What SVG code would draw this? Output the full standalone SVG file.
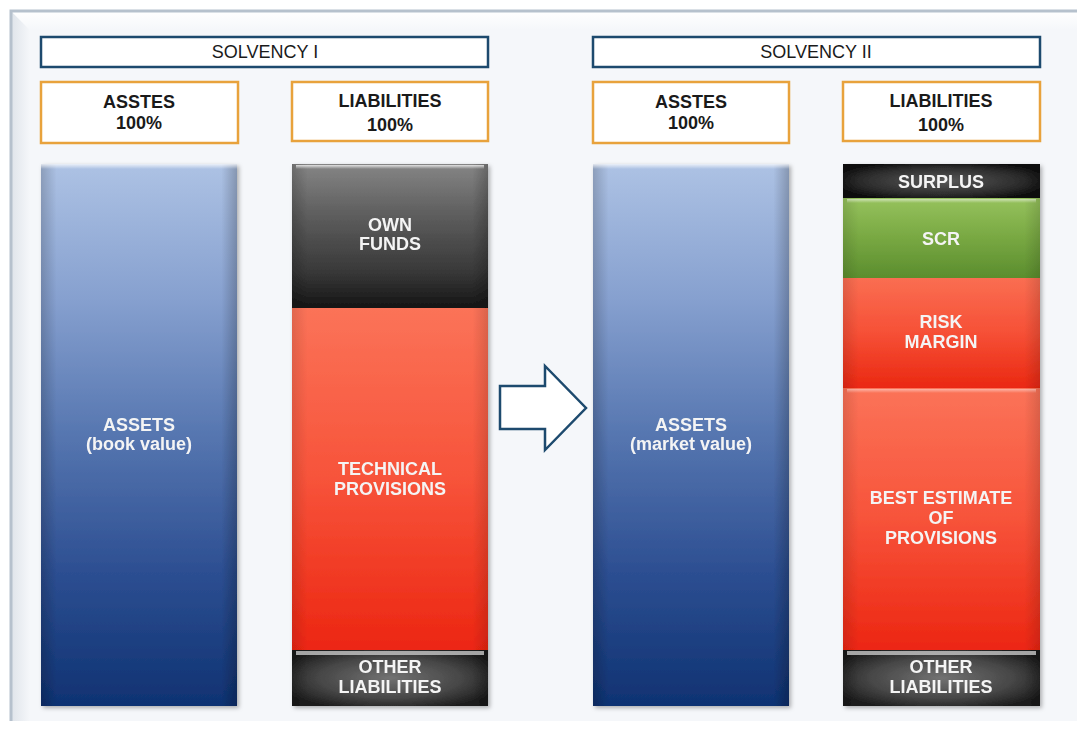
<svg xmlns="http://www.w3.org/2000/svg" width="1077" height="734" viewBox="0 0 1077 734">
<defs>
<linearGradient id="gBlue" x1="0" y1="0" x2="0" y2="1">
<stop offset="0" stop-color="#adc2e4"/>
<stop offset="0.25" stop-color="#86a0cf"/>
<stop offset="0.5" stop-color="#5676b0"/>
<stop offset="0.75" stop-color="#2d4f92"/>
<stop offset="1" stop-color="#0f3272"/>
</linearGradient>
<linearGradient id="gSide" x1="0" y1="0" x2="1" y2="0">
<stop offset="0" stop-color="#000" stop-opacity="0.18"/>
<stop offset="0.08" stop-color="#000" stop-opacity="0"/>
<stop offset="0.92" stop-color="#000" stop-opacity="0"/>
<stop offset="1" stop-color="#000" stop-opacity="0.22"/>
</linearGradient>
<linearGradient id="gDark" x1="0" y1="0" x2="0" y2="1">
<stop offset="0" stop-color="#858585"/>
<stop offset="0.35" stop-color="#5e5e5e"/>
<stop offset="0.75" stop-color="#383838"/>
<stop offset="1" stop-color="#151515"/>
</linearGradient>
<radialGradient id="gOther" cx="0.5" cy="0.5" r="0.6">
<stop offset="0" stop-color="#727272"/>
<stop offset="0.6" stop-color="#474747"/>
<stop offset="1" stop-color="#1c1c1c"/>
</radialGradient>
<radialGradient id="gSurplus" cx="0.5" cy="0.5" r="0.6">
<stop offset="0" stop-color="#5a5a5a"/>
<stop offset="0.7" stop-color="#2a2a2a"/>
<stop offset="1" stop-color="#0c0c0c"/>
</radialGradient>
<linearGradient id="gRed" x1="0" y1="0" x2="0" y2="1">
<stop offset="0" stop-color="#fb7358"/>
<stop offset="0.5" stop-color="#f7533a"/>
<stop offset="1" stop-color="#ec2612"/>
</linearGradient>
<linearGradient id="gRed2" x1="0" y1="0" x2="0" y2="1">
<stop offset="0" stop-color="#fa6e52"/>
<stop offset="0.5" stop-color="#f65036"/>
<stop offset="1" stop-color="#ea2812"/>
</linearGradient>
<linearGradient id="gGreen" x1="0" y1="0" x2="0" y2="1">
<stop offset="0" stop-color="#96c25d"/>
<stop offset="0.5" stop-color="#78a842"/>
<stop offset="1" stop-color="#5b8d2e"/>
</linearGradient>
<linearGradient id="gTopHi" x1="0" y1="0" x2="0" y2="1">
<stop offset="0" stop-color="#fff" stop-opacity="0.75"/>
<stop offset="1" stop-color="#fff" stop-opacity="0"/>
</linearGradient>
<linearGradient id="gBevelL" x1="0" y1="0" x2="1" y2="0">
<stop offset="0" stop-color="#dfe4ea"/>
<stop offset="1" stop-color="#f5f7fa"/>
</linearGradient>
<linearGradient id="gBevelT" x1="0" y1="0" x2="0" y2="1">
<stop offset="0" stop-color="#ffffff"/>
<stop offset="1" stop-color="#f5f7fa"/>
</linearGradient>
<filter id="sh" x="-10%" y="-5%" width="125%" height="115%">
<feDropShadow dx="2" dy="2" stdDeviation="2" flood-color="#000" flood-opacity="0.3"/>
</filter>
</defs>
<style>
.hdr{fill:#fff;stroke:#1d4a6e;stroke-width:2.5}
.sub{fill:#fff;stroke:#e8a23c;stroke-width:2.5}
.ht{font-family:"Liberation Sans",Arial,sans-serif;font-size:18px;fill:#1a1a1a;text-anchor:middle}
.st{font-family:"Liberation Sans",Arial,sans-serif;font-size:18px;font-weight:bold;fill:#1a1a1a;text-anchor:middle}
.bt{font-family:"Liberation Sans",Arial,sans-serif;font-size:18px;font-weight:bold;fill:#f4f4f4;text-anchor:middle}
</style>
<rect x="0" y="0" width="1077" height="734" fill="#ffffff"/>
<g id="frame">
<rect x="11" y="11" width="1066" height="710" fill="#f5f7fa"/>
<polygon points="11,11 30,30 30,721 11,721" fill="url(#gBevelL)"/>
<polygon points="11,11 1077,11 1077,30 30,30" fill="url(#gBevelT)"/>
<path d="M11,721 L11,11 L1077,11" fill="none" stroke="#b6c1cd" stroke-width="3"/>
</g>
<g id="solvency1-header"><rect class="hdr" x="41" y="37" width="447" height="30"/><text class="ht" x="265" y="58">SOLVENCY I</text></g>
<g id="solvency2-header"><rect class="hdr" x="593" y="37" width="447" height="30"/><text class="ht" x="816" y="58">SOLVENCY II</text></g>
<g id="assets1-header"><rect class="sub" x="41" y="82" width="197" height="61"/><text class="st" x="139" y="108">ASSTES</text><text class="st" x="139" y="129">100%</text></g>
<g id="liab1-header"><rect class="sub" x="292" y="82" width="196" height="59"/><text class="st" x="390" y="107">LIABILITIES</text><text class="st" x="390" y="131">100%</text></g>
<g id="assets2-header"><rect class="sub" x="593" y="82" width="196" height="61"/><text class="st" x="691" y="108">ASSTES</text><text class="st" x="691" y="129">100%</text></g>
<g id="liab2-header"><rect class="sub" x="843" y="82" width="197" height="59"/><text class="st" x="941" y="107">LIABILITIES</text><text class="st" x="941" y="131">100%</text></g>

<g id="assets1" filter="url(#sh)">
<rect x="41" y="164" width="196" height="542" fill="url(#gBlue)"/>
<rect x="41" y="164" width="196" height="542" fill="url(#gSide)"/>
<rect x="41" y="164" width="196" height="5" fill="url(#gTopHi)"/>
<text class="bt" x="139" y="431">ASSETS</text><text class="bt" x="139" y="450">(book value)</text>
</g>
<g id="liab1" filter="url(#sh)">
<g id="own-funds">
<rect x="292" y="164" width="196" height="144" fill="url(#gDark)"/>
<rect x="292" y="164" width="196" height="144" fill="url(#gSide)"/>
<rect x="296" y="165" width="188" height="4" fill="url(#gTopHi)"/>
<text class="bt" x="390" y="231">OWN</text><text class="bt" x="390" y="250">FUNDS</text>
</g>
<g id="technical-provisions">
<rect x="292" y="308" width="196" height="342" fill="url(#gRed)"/>
<rect x="292" y="308" width="196" height="342" fill="url(#gSide)" opacity="0.6"/>
<text class="bt" x="390" y="475">TECHNICAL</text><text class="bt" x="390" y="495">PROVISIONS</text>
</g>
<g id="other-liab1">
<rect x="292" y="650" width="196" height="56" fill="url(#gOther)"/>
<rect x="292" y="650" width="196" height="56" fill="url(#gSide)"/>
<rect x="296" y="651" width="188" height="4" fill="#c8c8c8" opacity="0.8"/>
<text class="bt" x="390" y="673">OTHER</text><text class="bt" x="390" y="693">LIABILITIES</text>
</g>
</g>

<g id="assets2" filter="url(#sh)">
<rect x="593" y="164" width="196" height="542" fill="url(#gBlue)"/>
<rect x="593" y="164" width="196" height="542" fill="url(#gSide)"/>
<rect x="593" y="164" width="196" height="5" fill="url(#gTopHi)"/>
<text class="bt" x="691" y="431">ASSETS</text><text class="bt" x="691" y="450">(market value)</text>
</g>
<g id="liab2" filter="url(#sh)">
<g id="surplus">
<rect x="843" y="164" width="197" height="34" fill="url(#gSurplus)"/>
<rect x="843" y="164" width="197" height="34" fill="url(#gSide)"/>
<text class="bt" x="941" y="188">SURPLUS</text>
</g>
<g id="scr">
<rect x="843" y="198" width="197" height="80" fill="url(#gGreen)"/>
<rect x="843" y="198" width="197" height="80" fill="url(#gSide)" opacity="0.6"/>
<rect x="847" y="199" width="189" height="4" fill="url(#gTopHi)" opacity="0.7"/>
<text class="bt" x="941" y="245">SCR</text>
</g>
<g id="risk-margin">
<rect x="843" y="278" width="197" height="110" fill="url(#gRed2)"/>
<rect x="843" y="278" width="197" height="110" fill="url(#gSide)" opacity="0.6"/>
<text class="bt" x="941" y="328">RISK</text><text class="bt" x="941" y="348">MARGIN</text>
</g>
<g id="best-estimate">
<rect x="843" y="388" width="197" height="262" fill="url(#gRed)"/>
<rect x="843" y="388" width="197" height="262" fill="url(#gSide)" opacity="0.6"/>
<rect x="847" y="389" width="189" height="4" fill="url(#gTopHi)" opacity="0.6"/>
<text class="bt" x="941" y="504">BEST ESTIMATE</text><text class="bt" x="941" y="524">OF</text><text class="bt" x="941" y="544">PROVISIONS</text>
</g>
<g id="other-liab2">
<rect x="843" y="650" width="197" height="56" fill="url(#gOther)"/>
<rect x="843" y="650" width="197" height="56" fill="url(#gSide)"/>
<rect x="847" y="651" width="189" height="4" fill="#c8c8c8" opacity="0.8"/>
<text class="bt" x="941" y="673">OTHER</text><text class="bt" x="941" y="693">LIABILITIES</text>
</g>
</g>

<g id="connectors">
<polygon points="500,386 545,386 545,366 586,408 545,450 545,429 500,429" fill="#ffffff" stroke="#1d4a6e" stroke-width="2.5" stroke-linejoin="miter"/>
</g>
</svg>
